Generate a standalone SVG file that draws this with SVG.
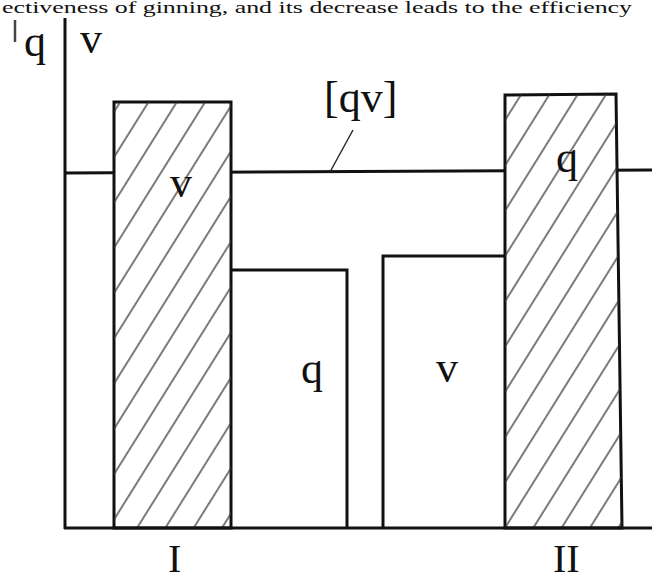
<svg xmlns="http://www.w3.org/2000/svg" width="656" height="584" viewBox="0 0 656 584">
  <defs>
    <pattern id="hatch" patternUnits="userSpaceOnUse" width="24" height="24" patternTransform="rotate(32)">
      <line x1="12" y1="0" x2="12" y2="24" stroke="#333" stroke-width="1.3"/>
    </pattern>
  </defs>
  <style>
    .frame { fill: none; stroke: #111; stroke-width: 3; stroke-linejoin: miter; }
    .bar { stroke: #111; stroke-width: 3; }
    .lbl { font-family: "Liberation Serif", "Times New Roman", serif; fill: #111; }
    .thin { stroke: #222; stroke-width: 1.4; fill: none; }
  </style>
  <rect width="656" height="584" fill="#fff"/>
  <text class="lbl" x="2" y="13" font-size="16" textLength="630" lengthAdjust="spacingAndGlyphs">ectiveness of ginning, and its decrease leads to the efficiency</text>
  <line x1="15" y1="20" x2="15" y2="42" stroke="#444" stroke-width="2.5"/>

  <g id="connectors">
    <line id="qv-level" x1="65" y1="173" x2="652" y2="170" stroke="#111" stroke-width="3"/>
    <line id="qv-leader" class="thin" x1="353" y1="130" x2="330" y2="172"/>
  </g>

  <g id="bar-I-v">
    <rect x="114" y="102" width="117" height="426" fill="#fff" class="bar"/>
    <rect x="114" y="102" width="117" height="426" fill="url(#hatch)"/>
    <text class="lbl" x="170" y="197" font-size="44">v</text>
  </g>
  <g id="bar-I-q">
    <path class="frame" d="M231 270 H347 V528"/>
    <text class="lbl" x="301" y="383" font-size="44">q</text>
  </g>
  <g id="bar-II-v">
    <path class="frame" d="M383 528 V256 H505"/>
    <text class="lbl" x="436" y="382" font-size="44">v</text>
  </g>
  <g id="bar-II-q">
    <path d="M505 95 L616 94 L622 528 L505 528 Z" fill="#fff" class="bar"/>
    <path d="M505 95 L616 94 L622 528 L505 528 Z" fill="url(#hatch)"/>
    <text class="lbl" x="556" y="172" font-size="44">q</text>
  </g>

  <g id="axes">
    <line x1="65" y1="18" x2="65" y2="529" stroke="#111" stroke-width="3"/>
    <line x1="64" y1="528" x2="652" y2="528" stroke="#111" stroke-width="3"/>
  </g>

  <g id="labels">
    <text class="lbl" x="24" y="56" font-size="44">q</text>
    <text class="lbl" x="80" y="53" font-size="44">v</text>
    <text class="lbl" x="324" y="112" font-size="44">[qv]</text>
    <text class="lbl" x="168" y="572" font-size="40">I</text>
    <text class="lbl" x="553" y="572" font-size="40">II</text>
  </g>
</svg>
